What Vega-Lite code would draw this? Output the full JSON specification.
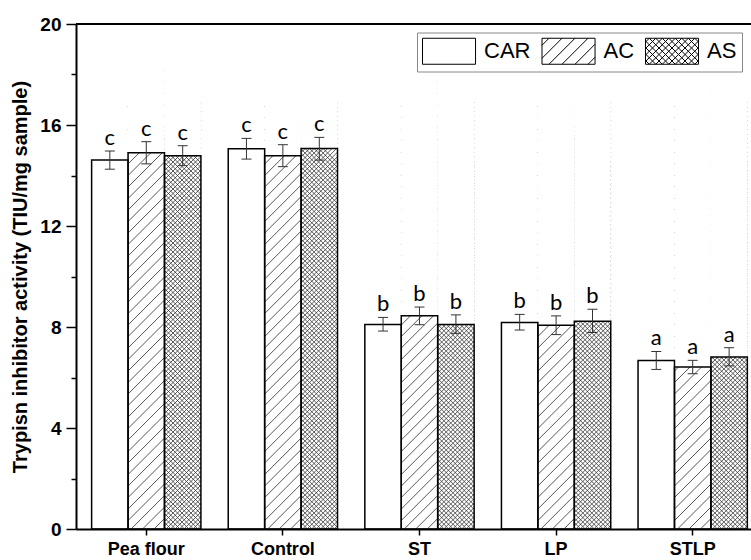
{
  "$schema": "https://vega.github.io/schema/vega-lite/v6.json",
  "width": 675,
  "height": 505,
  "autosize": {"type": "none"},
  "padding": {"left": 76, "top": 24, "right": 0, "bottom": 31},
  "background": "white",
  "data": {
    "values": [
      {"group": "Pea flour", "series": "CAR", "value": 14.61, "lo": 14.25, "hi": 14.97, "sig": "c"},
      {"group": "Pea flour", "series": "AC", "value": 14.9, "lo": 14.46, "hi": 15.34, "sig": "c"},
      {"group": "Pea flour", "series": "AS", "value": 14.78, "lo": 14.39, "hi": 15.18, "sig": "c"},
      {"group": "Control", "series": "CAR", "value": 15.06, "lo": 14.65, "hi": 15.47, "sig": "c"},
      {"group": "Control", "series": "AC", "value": 14.78, "lo": 14.35, "hi": 15.22, "sig": "c"},
      {"group": "Control", "series": "AS", "value": 15.07, "lo": 14.61, "hi": 15.51, "sig": "c"},
      {"group": "ST", "series": "CAR", "value": 8.1, "lo": 7.84, "hi": 8.38, "sig": "b"},
      {"group": "ST", "series": "AC", "value": 8.45, "lo": 8.09, "hi": 8.79, "sig": "b"},
      {"group": "ST", "series": "AS", "value": 8.1, "lo": 7.75, "hi": 8.48, "sig": "b"},
      {"group": "LP", "series": "CAR", "value": 8.18, "lo": 7.88, "hi": 8.5, "sig": "b"},
      {"group": "LP", "series": "AC", "value": 8.07, "lo": 7.7, "hi": 8.44, "sig": "b"},
      {"group": "LP", "series": "AS", "value": 8.23, "lo": 7.78, "hi": 8.7, "sig": "b"},
      {"group": "STLP", "series": "CAR", "value": 6.67, "lo": 6.32, "hi": 7.03, "sig": "a"},
      {"group": "STLP", "series": "AC", "value": 6.42, "lo": 6.15, "hi": 6.68, "sig": "a"},
      {"group": "STLP", "series": "AS", "value": 6.81, "lo": 6.46, "hi": 7.18, "sig": "a"}
    ]
  },
  "resolve": {"axis": {"y": "independent"}},
  "layer": [
    {
      "layer": [
        {
          "transform": [{"filter": "datum.series === 'AC'"}],
          "mark": {"type": "point", "clip": true, "filled": false, "opacity": 1, "size": 4, "stroke": "#444444", "strokeWidth": 0.9,
            "shape": "M-18.2,290l36.4,-36.4m-36.4,24.9l36.4,-36.4m-36.4,24.9l36.4,-36.4m-36.4,24.9l36.4,-36.4m-36.4,24.9l36.4,-36.4m-36.4,24.9l36.4,-36.4m-36.4,24.9l36.4,-36.4m-36.4,24.9l36.4,-36.4m-36.4,24.9l36.4,-36.4m-36.4,24.9l36.4,-36.4m-36.4,24.9l36.4,-36.4m-36.4,24.9l36.4,-36.4m-36.4,24.9l36.4,-36.4m-36.4,24.9l36.4,-36.4m-36.4,24.9l36.4,-36.4m-36.4,24.9l36.4,-36.4m-36.4,24.9l36.4,-36.4m-36.4,24.9l36.4,-36.4m-36.4,24.9l36.4,-36.4m-36.4,24.9l36.4,-36.4m-36.4,24.9l36.4,-36.4m-36.4,24.9l36.4,-36.4m-36.4,24.9l36.4,-36.4m-36.4,24.9l36.4,-36.4m-36.4,24.9l36.4,-36.4m-36.4,24.9l36.4,-36.4m-36.4,24.9l36.4,-36.4m-36.4,24.9l36.4,-36.4m-36.4,24.9l36.4,-36.4m-36.4,24.9l36.4,-36.4m-36.4,24.9l36.4,-36.4m-36.4,24.9l36.4,-36.4m-36.4,24.9l36.4,-36.4m-36.4,24.9l36.4,-36.4m-36.4,24.9l36.4,-36.4m-36.4,24.9l36.4,-36.4m-36.4,24.9l36.4,-36.4m-36.4,24.9l36.4,-36.4m-36.4,24.9l36.4,-36.4m-36.4,24.9l36.4,-36.4m-36.4,24.9l36.4,-36.4"},
          "encoding": {
            "x": {"field": "group", "type": "nominal", "sort": ["Pea flour", "Control", "ST", "LP", "STLP"], "title": null,
              "scale": {"domain": ["Pea flour", "Control", "ST", "LP", "STLP"], "paddingInner": 0.2, "paddingOuter": 0.0706, "align": 0.81},
              "axis": {"labelAngle": 0}},
            "xOffset": {"field": "series", "type": "nominal", "sort": ["CAR", "AC", "AS"], "scale": {"domain": ["CAR", "AC", "AS"], "paddingInner": 0, "paddingOuter": 0}},
            "y": {"datum": 10, "type": "quantitative"}
          }
        },
        {
          "transform": [{"filter": "datum.series === 'AS'"}],
          "mark": {"type": "point", "clip": true, "filled": false, "opacity": 1, "size": 4, "stroke": "#333333", "strokeWidth": 0.8,
            "shape": "M-18.2,290l36.4,-36.4m-36.4,31.9l36.4,-36.4m-36.4,31.9l36.4,-36.4m-36.4,31.9l36.4,-36.4m-36.4,31.9l36.4,-36.4m-36.4,31.9l36.4,-36.4m-36.4,31.9l36.4,-36.4m-36.4,31.9l36.4,-36.4m-36.4,31.9l36.4,-36.4m-36.4,31.9l36.4,-36.4m-36.4,31.9l36.4,-36.4m-36.4,31.9l36.4,-36.4m-36.4,31.9l36.4,-36.4m-36.4,31.9l36.4,-36.4m-36.4,31.9l36.4,-36.4m-36.4,31.9l36.4,-36.4m-36.4,31.9l36.4,-36.4m-36.4,31.9l36.4,-36.4m-36.4,31.9l36.4,-36.4m-36.4,31.9l36.4,-36.4m-36.4,31.9l36.4,-36.4m-36.4,31.9l36.4,-36.4m-36.4,31.9l36.4,-36.4m-36.4,31.9l36.4,-36.4m-36.4,31.9l36.4,-36.4m-36.4,31.9l36.4,-36.4m-36.4,31.9l36.4,-36.4m-36.4,31.9l36.4,-36.4m-36.4,31.9l36.4,-36.4m-36.4,31.9l36.4,-36.4m-36.4,31.9l36.4,-36.4m-36.4,31.9l36.4,-36.4m-36.4,31.9l36.4,-36.4m-36.4,31.9l36.4,-36.4m-36.4,31.9l36.4,-36.4m-36.4,31.9l36.4,-36.4m-36.4,31.9l36.4,-36.4m-36.4,31.9l36.4,-36.4m-36.4,31.9l36.4,-36.4m-36.4,31.9l36.4,-36.4m-36.4,31.9l36.4,-36.4m-36.4,31.9l36.4,-36.4m-36.4,31.9l36.4,-36.4m-36.4,31.9l36.4,-36.4m-36.4,31.9l36.4,-36.4m-36.4,31.9l36.4,-36.4m-36.4,31.9l36.4,-36.4m-36.4,31.9l36.4,-36.4m-36.4,31.9l36.4,-36.4m-36.4,31.9l36.4,-36.4m-36.4,31.9l36.4,-36.4m-36.4,31.9l36.4,-36.4m-36.4,31.9l36.4,-36.4m-36.4,31.9l36.4,-36.4m-36.4,31.9l36.4,-36.4m-36.4,31.9l36.4,-36.4m-36.4,31.9l36.4,-36.4m-36.4,31.9l36.4,-36.4m-36.4,31.9l36.4,-36.4m-36.4,31.9l36.4,-36.4m-36.4,31.9l36.4,-36.4m-36.4,31.9l36.4,-36.4m-36.4,31.9l36.4,-36.4m-36.4,31.9l36.4,-36.4m-36.4,31.9l36.4,-36.4m-36.4,31.9l36.4,-36.4m-36.4,31.9l36.4,-36.4m-36.4,31.9l36.4,-36.4m-36.4,31.9l36.4,-36.4m-36.4,31.9l36.4,-36.4m-36.4,31.9l36.4,-36.4m-36.4,31.9l36.4,-36.4m-36.4,31.9l36.4,-36.4m-36.4,31.9l36.4,-36.4m-36.4,31.9l36.4,-36.4m-36.4,31.9l36.4,-36.4m-36.4,31.9l36.4,-36.4m-36.4,31.9l36.4,-36.4m-36.4,31.9l36.4,-36.4m-36.4,31.9l36.4,-36.4m-36.4,31.9l36.4,-36.4m-36.4,31.9l36.4,-36.4m-36.4,31.9l36.4,-36.4m-36.4,31.9l36.4,-36.4m-36.4,31.9l36.4,-36.4m-36.4,31.9l36.4,-36.4m-36.4,31.9l36.4,-36.4m-36.4,31.9l36.4,-36.4m-36.4,31.9l36.4,-36.4m-36.4,31.9l36.4,-36.4m-36.4,31.9l36.4,-36.4m-36.4,31.9l36.4,-36.4m-36.4,31.9l36.4,-36.4m-36.4,31.9l36.4,-36.4m-36.4,31.9l36.4,-36.4m-36.4,31.9l36.4,-36.4M-18.2,255l36.4,36.4m-36.4,-40.9l36.4,36.4m-36.4,-40.9l36.4,36.4m-36.4,-40.9l36.4,36.4m-36.4,-40.9l36.4,36.4m-36.4,-40.9l36.4,36.4m-36.4,-40.9l36.4,36.4m-36.4,-40.9l36.4,36.4m-36.4,-40.9l36.4,36.4m-36.4,-40.9l36.4,36.4m-36.4,-40.9l36.4,36.4m-36.4,-40.9l36.4,36.4m-36.4,-40.9l36.4,36.4m-36.4,-40.9l36.4,36.4m-36.4,-40.9l36.4,36.4m-36.4,-40.9l36.4,36.4m-36.4,-40.9l36.4,36.4m-36.4,-40.9l36.4,36.4m-36.4,-40.9l36.4,36.4m-36.4,-40.9l36.4,36.4m-36.4,-40.9l36.4,36.4m-36.4,-40.9l36.4,36.4m-36.4,-40.9l36.4,36.4m-36.4,-40.9l36.4,36.4m-36.4,-40.9l36.4,36.4m-36.4,-40.9l36.4,36.4m-36.4,-40.9l36.4,36.4m-36.4,-40.9l36.4,36.4m-36.4,-40.9l36.4,36.4m-36.4,-40.9l36.4,36.4m-36.4,-40.9l36.4,36.4m-36.4,-40.9l36.4,36.4m-36.4,-40.9l36.4,36.4m-36.4,-40.9l36.4,36.4m-36.4,-40.9l36.4,36.4m-36.4,-40.9l36.4,36.4m-36.4,-40.9l36.4,36.4m-36.4,-40.9l36.4,36.4m-36.4,-40.9l36.4,36.4m-36.4,-40.9l36.4,36.4m-36.4,-40.9l36.4,36.4m-36.4,-40.9l36.4,36.4m-36.4,-40.9l36.4,36.4m-36.4,-40.9l36.4,36.4m-36.4,-40.9l36.4,36.4m-36.4,-40.9l36.4,36.4m-36.4,-40.9l36.4,36.4m-36.4,-40.9l36.4,36.4m-36.4,-40.9l36.4,36.4m-36.4,-40.9l36.4,36.4m-36.4,-40.9l36.4,36.4m-36.4,-40.9l36.4,36.4m-36.4,-40.9l36.4,36.4m-36.4,-40.9l36.4,36.4m-36.4,-40.9l36.4,36.4m-36.4,-40.9l36.4,36.4m-36.4,-40.9l36.4,36.4m-36.4,-40.9l36.4,36.4m-36.4,-40.9l36.4,36.4m-36.4,-40.9l36.4,36.4m-36.4,-40.9l36.4,36.4m-36.4,-40.9l36.4,36.4m-36.4,-40.9l36.4,36.4m-36.4,-40.9l36.4,36.4m-36.4,-40.9l36.4,36.4m-36.4,-40.9l36.4,36.4m-36.4,-40.9l36.4,36.4m-36.4,-40.9l36.4,36.4m-36.4,-40.9l36.4,36.4m-36.4,-40.9l36.4,36.4m-36.4,-40.9l36.4,36.4m-36.4,-40.9l36.4,36.4m-36.4,-40.9l36.4,36.4m-36.4,-40.9l36.4,36.4m-36.4,-40.9l36.4,36.4m-36.4,-40.9l36.4,36.4m-36.4,-40.9l36.4,36.4m-36.4,-40.9l36.4,36.4m-36.4,-40.9l36.4,36.4m-36.4,-40.9l36.4,36.4m-36.4,-40.9l36.4,36.4m-36.4,-40.9l36.4,36.4m-36.4,-40.9l36.4,36.4m-36.4,-40.9l36.4,36.4m-36.4,-40.9l36.4,36.4m-36.4,-40.9l36.4,36.4m-36.4,-40.9l36.4,36.4m-36.4,-40.9l36.4,36.4m-36.4,-40.9l36.4,36.4m-36.4,-40.9l36.4,36.4m-36.4,-40.9l36.4,36.4"},
          "encoding": {
            "x": {"field": "group", "type": "nominal", "sort": ["Pea flour", "Control", "ST", "LP", "STLP"], "title": null, "scale": {"domain": ["Pea flour", "Control", "ST", "LP", "STLP"]}},
            "xOffset": {"field": "series", "type": "nominal", "sort": ["CAR", "AC", "AS"], "scale": {"domain": ["CAR", "AC", "AS"]}},
            "y": {"datum": 10, "type": "quantitative"}
          }
        },
        {
          "transform": [{"filter": "datum.series !== 'CAR'"}],
          "mark": {"type": "bar", "fill": "white", "strokeWidth": 0, "clip": true},
          "encoding": {
            "x": {"field": "group", "type": "nominal", "sort": ["Pea flour", "Control", "ST", "LP", "STLP"], "title": null, "scale": {"domain": ["Pea flour", "Control", "ST", "LP", "STLP"]}},
            "xOffset": {"field": "series", "type": "nominal", "sort": ["CAR", "AC", "AS"], "scale": {"domain": ["CAR", "AC", "AS"]}},
            "y": {"field": "value", "type": "quantitative"},
            "y2": {"datum": 20}
          }
        },
        {
          "mark": {"type": "bar", "fill": "transparent", "stroke": "black", "strokeWidth": 1.5},
          "encoding": {
            "x": {"field": "group", "type": "nominal", "sort": ["Pea flour", "Control", "ST", "LP", "STLP"], "title": null, "scale": {"domain": ["Pea flour", "Control", "ST", "LP", "STLP"]}},
            "xOffset": {"field": "series", "type": "nominal", "sort": ["CAR", "AC", "AS"], "scale": {"domain": ["CAR", "AC", "AS"]}},
            "y": {"field": "value", "type": "quantitative", "title": "Trypisn inhibitor activity (TIU/mg sample)",
              "scale": {"domain": [0, 20], "nice": false},
              "axis": {"values": [0, 4, 8, 12, 16, 20], "tickSize": 10, "labelPadding": 5,
                "labelFont": "Liberation Sans", "labelFontSize": 19, "labelFontWeight": "bold", "labelColor": "black",
                "titleX": -50, "titleBaseline": "alphabetic"}}
          }
        },
        {
          "mark": {"type": "rule", "color": "#333333", "strokeWidth": 1},
          "encoding": {
            "x": {"field": "group", "type": "nominal", "sort": ["Pea flour", "Control", "ST", "LP", "STLP"], "title": null, "scale": {"domain": ["Pea flour", "Control", "ST", "LP", "STLP"]}},
            "xOffset": {"field": "series", "type": "nominal", "sort": ["CAR", "AC", "AS"], "scale": {"domain": ["CAR", "AC", "AS"]}},
            "y": {"field": "lo", "type": "quantitative"},
            "y2": {"field": "hi"}
          }
        },
        {
          "mark": {"type": "tick", "color": "#333333", "thickness": 1, "size": 10, "opacity": 1},
          "encoding": {
            "x": {"field": "group", "type": "nominal", "sort": ["Pea flour", "Control", "ST", "LP", "STLP"], "title": null, "scale": {"domain": ["Pea flour", "Control", "ST", "LP", "STLP"]}},
            "xOffset": {"field": "series", "type": "nominal", "sort": ["CAR", "AC", "AS"], "scale": {"domain": ["CAR", "AC", "AS"]}},
            "y": {"field": "hi", "type": "quantitative"}
          }
        },
        {
          "mark": {"type": "tick", "color": "#333333", "thickness": 1, "size": 10, "opacity": 1},
          "encoding": {
            "x": {"field": "group", "type": "nominal", "sort": ["Pea flour", "Control", "ST", "LP", "STLP"], "title": null, "scale": {"domain": ["Pea flour", "Control", "ST", "LP", "STLP"]}},
            "xOffset": {"field": "series", "type": "nominal", "sort": ["CAR", "AC", "AS"], "scale": {"domain": ["CAR", "AC", "AS"]}},
            "y": {"field": "lo", "type": "quantitative"}
          }
        },
        {
          "mark": {"type": "text", "font": "Lato", "fontSize": 22, "color": "black", "baseline": "alphabetic", "align": "center", "dy": -6},
          "encoding": {
            "x": {"field": "group", "type": "nominal", "sort": ["Pea flour", "Control", "ST", "LP", "STLP"], "title": null, "scale": {"domain": ["Pea flour", "Control", "ST", "LP", "STLP"]}},
            "xOffset": {"field": "series", "type": "nominal", "sort": ["CAR", "AC", "AS"], "scale": {"domain": ["CAR", "AC", "AS"]}},
            "y": {"field": "hi", "type": "quantitative"},
            "text": {"field": "sig"}
          }
        },
        {
          "mark": {"type": "point", "opacity": 0, "filled": false},
          "encoding": {
            "x": {"field": "group", "type": "nominal", "sort": ["Pea flour", "Control", "ST", "LP", "STLP"], "title": null, "scale": {"domain": ["Pea flour", "Control", "ST", "LP", "STLP"]}},
            "xOffset": {"field": "series", "type": "nominal", "sort": ["CAR", "AC", "AS"], "scale": {"domain": ["CAR", "AC", "AS"]}},
            "y": {"datum": 10, "type": "quantitative"},
            "shape": {"field": "series", "type": "nominal",
              "scale": {"domain": ["CAR", "AC", "AS"],
                "range": [
                  "M-1,-1H3.08V1H-1Z",
                  "M-1,-1H3.08V1H-1ZM-1,-0.46L-0.46,-1M-1,0.54L0.54,-1M-0.46,1L1.54,-1M0.54,1L2.54,-1M1.54,1L3.08,-0.54M2.54,1L3.08,0.46",
                  "M-1,-1H3.08V1H-1ZM-1,-0.71L-0.71,-1M-1,-0.21L-0.21,-1M-1,0.29L0.29,-1M-1,0.79L0.79,-1M-0.71,1L1.29,-1M-0.21,1L1.79,-1M0.29,1L2.29,-1M0.79,1L2.79,-1M1.29,1L3.08,-0.79M1.79,1L3.08,-0.29M2.29,1L3.08,0.21M2.79,1L3.08,0.71M-1,0.71L-0.71,1M-1,0.21L-0.21,1M-1,-0.29L0.29,1M-1,-0.79L0.79,1M-0.71,-1L1.29,1M-0.21,-1L1.79,1M0.29,-1L2.29,1M0.79,-1L2.79,1M1.29,-1L3.08,0.79M1.79,-1L3.08,0.29M2.29,-1L3.08,-0.21M2.79,-1L3.08,-0.71"
                ]},
              "legend": {"title": null, "orient": "none", "legendX": 341, "legendY": 8.5, "direction": "horizontal",
                "symbolSize": 676, "labelFont": "Liberation Sans", "labelFontSize": 22, "labelColor": "black",
                "labelOffset": 35, "columnPadding": 8.5, "padding": 5, "strokeColor": "#888888", "fillColor": "white",
                "symbolStrokeWidth": 1, "symbolStrokeColor": "black", "symbolFillColor": "white", "symbolOpacity": 1,
                "encode": {"symbols": {"update": {"opacity": {"value": 1}, "fill": {"value": "white"}, "stroke": {"value": "black"}, "strokeWidth": {"value": 1}, "size": {"value": 676}}}}}
            }
          }
        }
      ]
    },
    {
      "mark": {"type": "rule", "color": "black", "strokeWidth": 2},
      "encoding": {
        "y": {"datum": 20, "type": "quantitative", "scale": {"domain": [0, 20], "nice": false},
          "axis": {"orient": "left", "values": [2, 6, 10, 14, 18], "tickSize": 5, "labels": false, "domain": false, "title": null}}
      }
    }
  ],
  "config": {
    "view": {"stroke": null},
    "axis": {"domainColor": "black", "domainWidth": 2, "tickColor": "black", "tickWidth": 1.5, "labelColor": "black",
      "labelFont": "Liberation Sans", "labelFontWeight": "bold", "labelFontSize": 18,
      "titleFont": "Liberation Sans", "titleFontWeight": "bold", "titleFontSize": 20, "titleColor": "black", "grid": false},
    "axisX": {"tickSize": 6, "labelPadding": 5, "labelAngle": 0}
  }
}
